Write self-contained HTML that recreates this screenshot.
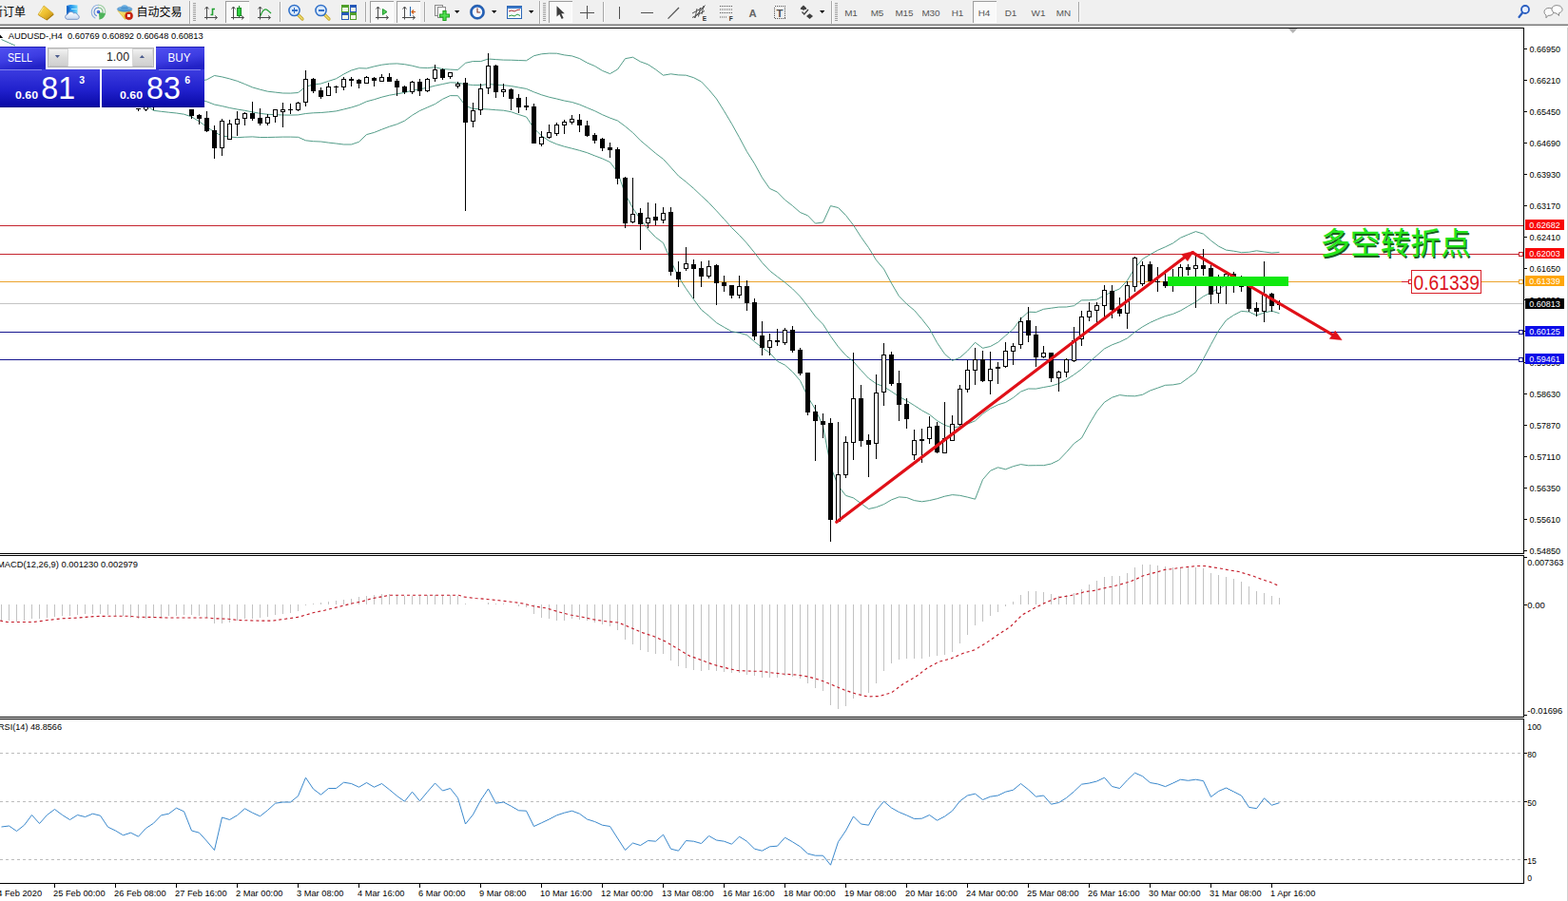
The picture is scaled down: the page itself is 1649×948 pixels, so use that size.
<!DOCTYPE html>
<html><head><meta charset="utf-8"><title>AUDUSD H4</title>
<style>
html,body{margin:0;padding:0;background:#fff;}
body{width:1649px;height:948px;overflow:hidden;position:relative;font-family:"Liberation Sans",sans-serif;}
svg{position:absolute;left:0;top:0;display:block;}
svg text{font-family:"Liberation Sans",sans-serif;}
rect{shape-rendering:crispEdges;}
</style></head><body>
<svg width="1649" height="948" viewBox="0 0 1649 948">
<rect x="0" y="0" width="1649" height="948" fill="#fff"/>
<rect x="0" y="29" width="1603" height="1" fill="#000"/>
<rect x="1602" y="29" width="1" height="554" fill="#000"/>
<rect x="1602" y="584" width="1" height="171" fill="#000"/>
<rect x="1602" y="756" width="1" height="174" fill="#000"/>
<rect x="0" y="582" width="1603" height="1" fill="#000"/>
<rect x="0" y="584" width="1603" height="1" fill="#000"/>
<rect x="0" y="754" width="1603" height="1" fill="#000"/>
<rect x="0" y="756" width="1603" height="1" fill="#000"/>
<rect x="0" y="929" width="1603" height="1" fill="#000"/>
<rect x="1648" y="27" width="1" height="921" fill="#d0d0d0"/>
<rect x="0" y="237" width="1602" height="1" fill="#c4242e"/>
<rect x="0" y="267" width="1602" height="1" fill="#c4242e"/>
<rect x="0" y="296" width="1602" height="1" fill="#eba32d"/>
<rect x="0" y="319" width="1602" height="1" fill="#c4c4c4"/>
<rect x="0" y="349" width="1602" height="1" fill="#16168f"/>
<rect x="0" y="378" width="1602" height="1" fill="#16168f"/>
<polyline points="1.5,41.5 9.5,45.1 16.0,48.0" fill="none" stroke="#3f917a" stroke-width="0.9"/>
<polyline points="209.5,85.5 217.5,83.8 225.5,79.5 233.5,80.9 241.5,82.9 249.5,85.3 257.5,88.5 265.5,91.9 273.5,94.2 281.5,96.2 289.5,97.1 297.5,98.0 305.5,98.1 313.5,97.5 321.5,91.2 329.5,89.0 337.5,88.0 345.5,85.4 353.5,82.8 361.5,78.0 369.5,74.0 377.5,71.7 385.5,72.0 393.5,69.9 401.5,68.2 409.5,67.2 417.5,66.9 425.5,67.7 433.5,69.2 441.5,71.2 449.5,71.5 457.5,70.8 465.5,72.6 473.5,73.1 481.5,73.5 489.5,66.3 497.5,64.5 505.5,64.6 513.5,62.0 521.5,62.6 529.5,63.1 537.5,63.2 545.5,63.5 553.5,63.8 561.5,58.7 569.5,56.8 577.5,56.1 585.5,56.2 593.5,57.9 601.5,58.9 609.5,61.6 617.5,66.1 625.5,69.5 633.5,74.4 641.5,77.6 649.5,73.0 657.5,61.7 665.5,60.2 673.5,64.9 681.5,67.8 689.5,73.1 697.5,79.2 705.5,77.8 713.5,78.9 721.5,79.2 729.5,81.7 737.5,85.9 745.5,94.3 753.5,104.0 761.5,116.8 769.5,130.2 777.5,144.6 785.5,159.6 793.5,172.2 801.5,186.9 809.5,198.4 817.5,202.1 825.5,210.3 833.5,216.5 841.5,223.5 849.5,226.8 857.5,235.1 865.5,234.0 873.5,216.6 881.5,218.5 889.5,226.5 897.5,236.9 905.5,249.4 913.5,260.6 921.5,273.7 929.5,283.1 937.5,298.0 945.5,311.7 953.5,319.8 961.5,326.5 969.5,335.7 977.5,345.9 985.5,360.6 993.5,372.4 1001.5,379.4 1009.5,376.3 1017.5,369.2 1025.5,360.3 1033.5,366.3 1041.5,364.5 1049.5,360.1 1057.5,353.1 1065.5,346.3 1073.5,335.5 1081.5,328.2 1089.5,328.5 1097.5,325.3 1105.5,324.2 1113.5,323.1 1121.5,323.0 1129.5,321.7 1137.5,315.9 1145.5,315.8 1153.5,315.1 1161.5,310.7 1169.5,307.3 1177.5,303.9 1185.5,295.1 1193.5,282.0 1201.5,272.6 1209.5,267.8 1217.5,263.3 1225.5,259.8 1233.5,255.9 1241.5,250.2 1249.5,246.8 1257.5,243.6 1265.5,246.1 1273.5,253.1 1281.5,259.1 1289.5,263.1 1297.5,264.2 1305.5,265.7 1313.5,265.3 1321.5,263.8 1329.5,265.0 1337.5,266.0 1345.5,265.4" fill="none" stroke="#3f917a" stroke-width="0.9"/>
<polyline points="1.5,76.4 9.5,79.2 17.5,82.0 25.5,84.5 33.5,86.6 41.5,88.7 49.5,90.4 57.5,91.8 65.5,93.0 73.5,94.2 81.5,95.1 89.5,95.9 97.5,96.5 105.5,97.0 113.5,97.6 121.5,98.3 129.5,99.0 137.5,99.6 145.5,100.4 153.5,100.9 161.5,101.3 169.5,101.5 177.5,101.7 185.5,101.8 193.5,102.3 201.5,103.3 209.5,104.7 217.5,106.9 225.5,110.0 233.5,111.6 241.5,113.5 249.5,115.0 257.5,116.3 265.5,117.9 273.5,119.3 281.5,120.3 289.5,120.7 297.5,121.0 305.5,121.1 313.5,120.9 321.5,119.5 329.5,118.8 337.5,118.5 345.5,117.8 353.5,116.9 361.5,115.0 369.5,113.0 377.5,110.5 385.5,106.8 393.5,104.7 401.5,102.2 409.5,100.2 417.5,98.8 425.5,97.4 433.5,95.2 441.5,93.8 449.5,92.2 457.5,90.2 465.5,88.5 473.5,86.8 481.5,87.1 489.5,88.8 497.5,89.5 505.5,89.6 513.5,88.5 521.5,89.2 529.5,89.7 537.5,90.5 545.5,92.0 553.5,93.4 561.5,96.8 569.5,99.8 577.5,102.2 585.5,104.0 593.5,106.0 601.5,107.5 609.5,110.0 617.5,113.4 625.5,116.7 633.5,120.7 641.5,124.1 649.5,127.0 657.5,132.9 665.5,139.6 673.5,147.8 681.5,154.5 689.5,161.3 697.5,167.4 705.5,176.1 713.5,185.1 721.5,191.4 729.5,198.3 737.5,205.9 745.5,213.3 753.5,221.8 761.5,230.6 769.5,239.5 777.5,247.4 785.5,256.0 793.5,265.9 801.5,276.3 809.5,284.9 817.5,291.1 825.5,297.2 833.5,303.9 841.5,312.0 849.5,322.1 857.5,333.0 865.5,341.1 873.5,353.7 881.5,364.8 889.5,373.9 897.5,380.4 905.5,389.6 913.5,398.1 921.5,403.7 929.5,406.9 937.5,411.9 945.5,417.3 953.5,421.6 961.5,426.6 969.5,431.8 977.5,436.2 985.5,442.6 993.5,447.3 1001.5,450.0 1009.5,448.8 1017.5,446.1 1025.5,442.8 1033.5,435.4 1041.5,429.9 1049.5,425.9 1057.5,423.4 1065.5,418.5 1073.5,412.1 1081.5,409.0 1089.5,409.1 1097.5,407.5 1105.5,406.1 1113.5,403.6 1121.5,399.4 1129.5,394.2 1137.5,388.4 1145.5,381.0 1153.5,374.0 1161.5,366.9 1169.5,362.8 1177.5,359.8 1185.5,355.9 1193.5,349.4 1201.5,343.9 1209.5,339.4 1217.5,335.8 1225.5,332.6 1233.5,330.4 1241.5,326.9 1249.5,322.2 1257.5,317.6 1265.5,311.9 1273.5,307.8 1281.5,303.5 1289.5,300.0 1297.5,297.9 1305.5,296.6 1313.5,296.7 1321.5,297.8 1329.5,297.0 1337.5,296.6 1345.5,297.6" fill="none" stroke="#3f917a" stroke-width="0.9"/>
<polyline points="1.5,110.5 9.5,110.5 17.5,110.5 25.5,110.5 33.5,110.5 41.5,110.5 49.5,110.5 57.5,110.5 65.5,110.5 73.5,110.5 81.5,110.4 89.5,109.1 97.5,107.9 105.5,107.0 113.5,106.7 121.5,107.0 129.5,108.5 137.5,109.9 145.5,110.5 153.5,110.5 161.5,116.3 169.5,117.3 177.5,118.2 185.5,119.0 193.5,120.2 201.5,122.9 209.5,127.8 217.5,133.5 225.5,139.0 233.5,143.0 241.5,144.0 249.5,144.7 257.5,144.2 265.5,143.9 273.5,144.5 281.5,144.5 289.5,144.3 297.5,144.1 305.5,144.1 313.5,144.3 321.5,147.8 329.5,148.7 337.5,149.0 345.5,150.1 353.5,151.0 361.5,152.0 369.5,152.0 377.5,149.3 385.5,141.6 393.5,139.4 401.5,136.2 409.5,133.2 417.5,130.7 425.5,127.1 433.5,121.3 441.5,116.5 449.5,113.0 457.5,109.5 465.5,104.3 473.5,100.6 481.5,100.7 489.5,111.2 497.5,114.5 505.5,114.6 513.5,115.0 521.5,115.7 529.5,116.2 537.5,117.7 545.5,120.5 553.5,123.0 561.5,135.0 569.5,142.8 577.5,148.3 585.5,151.7 593.5,154.2 601.5,156.2 609.5,158.3 617.5,160.7 625.5,163.9 633.5,166.9 641.5,170.6 649.5,181.1 657.5,204.2 665.5,218.9 673.5,230.8 681.5,241.2 689.5,249.6 697.5,255.6 705.5,274.3 713.5,291.3 721.5,303.7 729.5,315.0 737.5,325.9 745.5,332.4 753.5,339.6 761.5,344.3 769.5,348.8 777.5,350.3 785.5,352.4 793.5,359.6 801.5,365.7 809.5,371.3 817.5,380.1 825.5,384.1 833.5,391.2 841.5,400.5 849.5,417.4 857.5,430.9 865.5,448.1 873.5,490.8 881.5,511.1 889.5,521.4 897.5,523.9 905.5,529.7 913.5,535.5 921.5,533.7 929.5,530.6 937.5,525.9 945.5,522.9 953.5,523.5 961.5,526.6 969.5,527.8 977.5,526.6 985.5,524.7 993.5,522.2 1001.5,520.6 1009.5,521.3 1017.5,523.1 1025.5,525.2 1033.5,504.6 1041.5,495.3 1049.5,491.8 1057.5,493.8 1065.5,490.7 1073.5,488.6 1081.5,489.8 1089.5,489.7 1097.5,489.7 1105.5,488.0 1113.5,484.2 1121.5,475.8 1129.5,466.7 1137.5,460.9 1145.5,446.2 1153.5,432.9 1161.5,423.2 1169.5,418.2 1177.5,415.6 1185.5,416.6 1193.5,416.8 1201.5,415.3 1209.5,411.0 1217.5,408.2 1225.5,405.3 1233.5,404.9 1241.5,403.5 1249.5,397.7 1257.5,391.7 1265.5,377.7 1273.5,362.5 1281.5,347.9 1289.5,336.9 1297.5,331.5 1305.5,327.4 1313.5,328.1 1321.5,331.8 1329.5,329.0 1337.5,327.2 1345.5,329.7" fill="none" stroke="#3f917a" stroke-width="0.9"/>
<g fill="#000"><rect x="201" y="115" width="1" height="10"/><rect x="199" y="115" width="5" height="7"/><rect x="209" y="120" width="1" height="11"/><rect x="207" y="121" width="5" height="4"/><rect x="217" y="117" width="1" height="22"/><rect x="215" y="124" width="5" height="14"/><rect x="225" y="132" width="1" height="35"/><rect x="223" y="137" width="5" height="19"/><rect x="233" y="125" width="1" height="39"/><rect x="231" y="127" width="5" height="29"/><rect x="232" y="128" width="3" height="27" fill="#fff"/><rect x="241" y="126" width="1" height="21"/><rect x="239" y="130" width="5" height="17"/><rect x="240" y="131" width="3" height="15" fill="#fff"/><rect x="249" y="117" width="1" height="26"/><rect x="247" y="125" width="5" height="6"/><rect x="248" y="126" width="3" height="4" fill="#fff"/><rect x="257" y="118" width="1" height="14"/><rect x="255" y="119" width="5" height="6"/><rect x="256" y="120" width="3" height="4" fill="#fff"/><rect x="265" y="107" width="1" height="20"/><rect x="263" y="119" width="5" height="6"/><rect x="273" y="114" width="1" height="18"/><rect x="271" y="124" width="5" height="6"/><rect x="281" y="120" width="1" height="12"/><rect x="279" y="123" width="5" height="7"/><rect x="280" y="124" width="3" height="5" fill="#fff"/><rect x="289" y="115" width="1" height="14"/><rect x="287" y="115" width="5" height="8"/><rect x="288" y="116" width="3" height="6" fill="#fff"/><rect x="297" y="108" width="1" height="26"/><rect x="295" y="115" width="5" height="3"/><rect x="296" y="116" width="3" height="1" fill="#fff"/><rect x="305" y="109" width="1" height="11"/><rect x="303" y="115" width="5" height="1"/><rect x="313" y="107" width="1" height="10"/><rect x="311" y="108" width="5" height="8"/><rect x="312" y="109" width="3" height="6" fill="#fff"/><rect x="321" y="74" width="1" height="38"/><rect x="319" y="83" width="5" height="25"/><rect x="320" y="84" width="3" height="23" fill="#fff"/><rect x="329" y="82" width="1" height="16"/><rect x="327" y="83" width="5" height="13"/><rect x="337" y="92" width="1" height="12"/><rect x="335" y="95" width="5" height="7"/><rect x="345" y="87" width="1" height="14"/><rect x="343" y="91" width="5" height="10"/><rect x="344" y="92" width="3" height="8" fill="#fff"/><rect x="353" y="90" width="1" height="8"/><rect x="351" y="91" width="5" height="1"/><rect x="361" y="81" width="1" height="14"/><rect x="359" y="83" width="5" height="9"/><rect x="360" y="84" width="3" height="7" fill="#fff"/><rect x="369" y="81" width="1" height="10"/><rect x="367" y="83" width="5" height="2"/><rect x="377" y="83" width="1" height="10"/><rect x="375" y="84" width="5" height="4"/><rect x="385" y="80" width="1" height="8"/><rect x="383" y="81" width="5" height="7"/><rect x="384" y="82" width="3" height="5" fill="#fff"/><rect x="393" y="81" width="1" height="10"/><rect x="391" y="82" width="5" height="3"/><rect x="401" y="78" width="1" height="8"/><rect x="399" y="81" width="5" height="5"/><rect x="400" y="82" width="3" height="3" fill="#fff"/><rect x="409" y="77" width="1" height="9"/><rect x="407" y="81" width="5" height="5"/><rect x="417" y="83" width="1" height="18"/><rect x="415" y="85" width="5" height="7"/><rect x="425" y="90" width="1" height="9"/><rect x="423" y="91" width="5" height="6"/><rect x="433" y="85" width="1" height="14"/><rect x="431" y="86" width="5" height="11"/><rect x="432" y="87" width="3" height="9" fill="#fff"/><rect x="441" y="83" width="1" height="18"/><rect x="439" y="86" width="5" height="10"/><rect x="449" y="82" width="1" height="15"/><rect x="447" y="83" width="5" height="13"/><rect x="448" y="84" width="3" height="11" fill="#fff"/><rect x="457" y="68" width="1" height="18"/><rect x="455" y="73" width="5" height="10"/><rect x="456" y="74" width="3" height="8" fill="#fff"/><rect x="465" y="72" width="1" height="12"/><rect x="463" y="73" width="5" height="9"/><rect x="473" y="76" width="1" height="7"/><rect x="471" y="76" width="5" height="5"/><rect x="472" y="77" width="3" height="3" fill="#fff"/><rect x="481" y="86" width="1" height="7"/><rect x="479" y="88" width="5" height="3"/><rect x="480" y="89" width="3" height="1" fill="#fff"/><rect x="489" y="82" width="1" height="140"/><rect x="487" y="87" width="5" height="42"/><rect x="497" y="108" width="1" height="26"/><rect x="495" y="116" width="5" height="12"/><rect x="496" y="117" width="3" height="10" fill="#fff"/><rect x="505" y="88" width="1" height="33"/><rect x="503" y="93" width="5" height="23"/><rect x="504" y="94" width="3" height="21" fill="#fff"/><rect x="513" y="56" width="1" height="43"/><rect x="511" y="69" width="5" height="24"/><rect x="512" y="70" width="3" height="22" fill="#fff"/><rect x="521" y="68" width="1" height="35"/><rect x="519" y="69" width="5" height="28"/><rect x="529" y="88" width="1" height="14"/><rect x="527" y="94" width="5" height="3"/><rect x="528" y="95" width="3" height="1" fill="#fff"/><rect x="537" y="93" width="1" height="23"/><rect x="535" y="94" width="5" height="10"/><rect x="545" y="99" width="1" height="20"/><rect x="543" y="103" width="5" height="10"/><rect x="553" y="102" width="1" height="14"/><rect x="551" y="111" width="5" height="2"/><rect x="561" y="109" width="1" height="42"/><rect x="559" y="112" width="5" height="39"/><rect x="569" y="138" width="1" height="16"/><rect x="567" y="144" width="5" height="8"/><rect x="568" y="145" width="3" height="6" fill="#fff"/><rect x="577" y="131" width="1" height="15"/><rect x="575" y="139" width="5" height="6"/><rect x="576" y="140" width="3" height="4" fill="#fff"/><rect x="585" y="129" width="1" height="14"/><rect x="583" y="131" width="5" height="10"/><rect x="584" y="132" width="3" height="8" fill="#fff"/><rect x="593" y="126" width="1" height="15"/><rect x="591" y="128" width="5" height="4"/><rect x="592" y="129" width="3" height="2" fill="#fff"/><rect x="601" y="121" width="1" height="10"/><rect x="599" y="125" width="5" height="4"/><rect x="600" y="126" width="3" height="2" fill="#fff"/><rect x="609" y="120" width="1" height="19"/><rect x="607" y="126" width="5" height="6"/><rect x="617" y="127" width="1" height="17"/><rect x="615" y="132" width="5" height="11"/><rect x="625" y="140" width="1" height="11"/><rect x="623" y="142" width="5" height="6"/><rect x="633" y="145" width="1" height="14"/><rect x="631" y="146" width="5" height="10"/><rect x="641" y="150" width="1" height="16"/><rect x="639" y="155" width="5" height="3"/><rect x="649" y="155" width="1" height="39"/><rect x="647" y="157" width="5" height="31"/><rect x="657" y="186" width="1" height="54"/><rect x="655" y="187" width="5" height="48"/><rect x="665" y="187" width="1" height="48"/><rect x="663" y="225" width="5" height="9"/><rect x="664" y="226" width="3" height="7" fill="#fff"/><rect x="673" y="219" width="1" height="44"/><rect x="671" y="224" width="5" height="12"/><rect x="681" y="213" width="1" height="27"/><rect x="679" y="229" width="5" height="6"/><rect x="680" y="230" width="3" height="4" fill="#fff"/><rect x="689" y="214" width="1" height="23"/><rect x="687" y="228" width="5" height="4"/><rect x="697" y="218" width="1" height="17"/><rect x="695" y="224" width="5" height="8"/><rect x="696" y="225" width="3" height="6" fill="#fff"/><rect x="705" y="218" width="1" height="72"/><rect x="703" y="223" width="5" height="63"/><rect x="713" y="275" width="1" height="27"/><rect x="711" y="286" width="5" height="8"/><rect x="721" y="260" width="1" height="25"/><rect x="719" y="277" width="5" height="6"/><rect x="720" y="278" width="3" height="4" fill="#fff"/><rect x="729" y="273" width="1" height="41"/><rect x="727" y="278" width="5" height="5"/><rect x="737" y="275" width="1" height="27"/><rect x="735" y="282" width="5" height="9"/><rect x="745" y="274" width="1" height="19"/><rect x="743" y="280" width="5" height="11"/><rect x="744" y="281" width="3" height="9" fill="#fff"/><rect x="753" y="278" width="1" height="43"/><rect x="751" y="279" width="5" height="19"/><rect x="761" y="290" width="1" height="17"/><rect x="759" y="297" width="5" height="4"/><rect x="769" y="300" width="1" height="14"/><rect x="767" y="300" width="5" height="11"/><rect x="777" y="290" width="1" height="24"/><rect x="775" y="301" width="5" height="10"/><rect x="776" y="302" width="3" height="8" fill="#fff"/><rect x="785" y="295" width="1" height="32"/><rect x="783" y="301" width="5" height="18"/><rect x="793" y="314" width="1" height="44"/><rect x="791" y="318" width="5" height="36"/><rect x="801" y="338" width="1" height="36"/><rect x="799" y="353" width="5" height="13"/><rect x="809" y="351" width="1" height="23"/><rect x="807" y="358" width="5" height="8"/><rect x="808" y="359" width="3" height="6" fill="#fff"/><rect x="817" y="346" width="1" height="18"/><rect x="815" y="358" width="5" height="2"/><rect x="825" y="345" width="1" height="18"/><rect x="823" y="347" width="5" height="14"/><rect x="824" y="348" width="3" height="12" fill="#fff"/><rect x="833" y="343" width="1" height="28"/><rect x="831" y="347" width="5" height="22"/><rect x="841" y="366" width="1" height="29"/><rect x="839" y="368" width="5" height="25"/><rect x="849" y="392" width="1" height="45"/><rect x="847" y="392" width="5" height="42"/><rect x="857" y="426" width="1" height="59"/><rect x="855" y="433" width="5" height="10"/><rect x="865" y="435" width="1" height="26"/><rect x="863" y="443" width="5" height="4"/><rect x="873" y="440" width="1" height="130"/><rect x="871" y="445" width="5" height="102"/><rect x="881" y="444" width="1" height="105"/><rect x="879" y="499" width="5" height="50"/><rect x="880" y="500" width="3" height="48" fill="#fff"/><rect x="889" y="459" width="1" height="44"/><rect x="887" y="465" width="5" height="35"/><rect x="888" y="466" width="3" height="33" fill="#fff"/><rect x="897" y="371" width="1" height="113"/><rect x="895" y="419" width="5" height="47"/><rect x="896" y="420" width="3" height="45" fill="#fff"/><rect x="905" y="405" width="1" height="65"/><rect x="903" y="419" width="5" height="45"/><rect x="913" y="457" width="1" height="45"/><rect x="911" y="463" width="5" height="5"/><rect x="921" y="394" width="1" height="89"/><rect x="919" y="413" width="5" height="54"/><rect x="920" y="414" width="3" height="52" fill="#fff"/><rect x="929" y="361" width="1" height="66"/><rect x="927" y="373" width="5" height="40"/><rect x="928" y="374" width="3" height="38" fill="#fff"/><rect x="937" y="370" width="1" height="36"/><rect x="935" y="373" width="5" height="31"/><rect x="945" y="390" width="1" height="53"/><rect x="943" y="403" width="5" height="23"/><rect x="953" y="419" width="1" height="32"/><rect x="951" y="425" width="5" height="16"/><rect x="961" y="452" width="1" height="32"/><rect x="959" y="463" width="5" height="16"/><rect x="960" y="464" width="3" height="14" fill="#fff"/><rect x="969" y="451" width="1" height="36"/><rect x="967" y="462" width="5" height="2"/><rect x="977" y="438" width="1" height="29"/><rect x="975" y="449" width="5" height="13"/><rect x="976" y="450" width="3" height="11" fill="#fff"/><rect x="985" y="444" width="1" height="33"/><rect x="983" y="448" width="5" height="28"/><rect x="993" y="423" width="1" height="54"/><rect x="991" y="461" width="5" height="16"/><rect x="992" y="462" width="3" height="14" fill="#fff"/><rect x="1001" y="437" width="1" height="27"/><rect x="999" y="446" width="5" height="18"/><rect x="1000" y="447" width="3" height="16" fill="#fff"/><rect x="1009" y="405" width="1" height="43"/><rect x="1007" y="409" width="5" height="38"/><rect x="1008" y="410" width="3" height="36" fill="#fff"/><rect x="1017" y="379" width="1" height="34"/><rect x="1015" y="389" width="5" height="21"/><rect x="1016" y="390" width="3" height="19" fill="#fff"/><rect x="1025" y="366" width="1" height="39"/><rect x="1023" y="378" width="5" height="12"/><rect x="1024" y="379" width="3" height="10" fill="#fff"/><rect x="1033" y="369" width="1" height="33"/><rect x="1031" y="378" width="5" height="23"/><rect x="1041" y="370" width="1" height="45"/><rect x="1039" y="388" width="5" height="13"/><rect x="1040" y="389" width="3" height="11" fill="#fff"/><rect x="1049" y="381" width="1" height="23"/><rect x="1047" y="386" width="5" height="2"/><rect x="1057" y="360" width="1" height="27"/><rect x="1055" y="369" width="5" height="17"/><rect x="1056" y="370" width="3" height="15" fill="#fff"/><rect x="1065" y="361" width="1" height="23"/><rect x="1063" y="364" width="5" height="6"/><rect x="1064" y="365" width="3" height="4" fill="#fff"/><rect x="1073" y="334" width="1" height="33"/><rect x="1071" y="338" width="5" height="25"/><rect x="1072" y="339" width="3" height="23" fill="#fff"/><rect x="1081" y="323" width="1" height="37"/><rect x="1079" y="337" width="5" height="16"/><rect x="1089" y="343" width="1" height="43"/><rect x="1087" y="352" width="5" height="24"/><rect x="1097" y="364" width="1" height="13"/><rect x="1095" y="371" width="5" height="5"/><rect x="1096" y="372" width="3" height="3" fill="#fff"/><rect x="1105" y="371" width="1" height="31"/><rect x="1103" y="371" width="5" height="27"/><rect x="1113" y="390" width="1" height="22"/><rect x="1111" y="391" width="5" height="7"/><rect x="1112" y="392" width="3" height="5" fill="#fff"/><rect x="1121" y="377" width="1" height="20"/><rect x="1119" y="378" width="5" height="14"/><rect x="1120" y="379" width="3" height="12" fill="#fff"/><rect x="1129" y="344" width="1" height="37"/><rect x="1127" y="358" width="5" height="22"/><rect x="1128" y="359" width="3" height="20" fill="#fff"/><rect x="1137" y="327" width="1" height="37"/><rect x="1135" y="333" width="5" height="24"/><rect x="1136" y="334" width="3" height="22" fill="#fff"/><rect x="1145" y="318" width="1" height="20"/><rect x="1143" y="327" width="5" height="7"/><rect x="1144" y="328" width="3" height="5" fill="#fff"/><rect x="1153" y="318" width="1" height="22"/><rect x="1151" y="321" width="5" height="6"/><rect x="1152" y="322" width="3" height="4" fill="#fff"/><rect x="1161" y="300" width="1" height="35"/><rect x="1159" y="305" width="5" height="17"/><rect x="1160" y="306" width="3" height="15" fill="#fff"/><rect x="1169" y="300" width="1" height="35"/><rect x="1167" y="306" width="5" height="20"/><rect x="1177" y="313" width="1" height="20"/><rect x="1175" y="325" width="5" height="5"/><rect x="1185" y="296" width="1" height="50"/><rect x="1183" y="300" width="5" height="30"/><rect x="1184" y="301" width="3" height="28" fill="#fff"/><rect x="1193" y="270" width="1" height="37"/><rect x="1191" y="271" width="5" height="31"/><rect x="1192" y="272" width="3" height="29" fill="#fff"/><rect x="1201" y="275" width="1" height="26"/><rect x="1199" y="279" width="5" height="20"/><rect x="1200" y="280" width="3" height="18" fill="#fff"/><rect x="1209" y="275" width="1" height="21"/><rect x="1207" y="278" width="5" height="18"/><rect x="1217" y="281" width="1" height="26"/><rect x="1215" y="296" width="5" height="1"/><rect x="1225" y="284" width="1" height="19"/><rect x="1223" y="296" width="5" height="5"/><rect x="1233" y="283" width="1" height="24"/><rect x="1231" y="295" width="5" height="1"/><rect x="1241" y="278" width="1" height="20"/><rect x="1239" y="281" width="5" height="14"/><rect x="1240" y="282" width="3" height="12" fill="#fff"/><rect x="1249" y="278" width="1" height="12"/><rect x="1247" y="281" width="5" height="3"/><rect x="1257" y="269" width="1" height="55"/><rect x="1255" y="279" width="5" height="4"/><rect x="1256" y="280" width="3" height="2" fill="#fff"/><rect x="1265" y="262" width="1" height="28"/><rect x="1263" y="279" width="5" height="4"/><rect x="1273" y="279" width="1" height="41"/><rect x="1271" y="282" width="5" height="28"/><rect x="1281" y="289" width="1" height="30"/><rect x="1279" y="292" width="5" height="17"/><rect x="1280" y="293" width="3" height="15" fill="#fff"/><rect x="1289" y="288" width="1" height="32"/><rect x="1287" y="288" width="5" height="10"/><rect x="1288" y="289" width="3" height="8" fill="#fff"/><rect x="1297" y="286" width="1" height="22"/><rect x="1295" y="288" width="5" height="3"/><rect x="1305" y="290" width="1" height="17"/><rect x="1303" y="296" width="5" height="6"/><rect x="1313" y="296" width="1" height="32"/><rect x="1311" y="297" width="5" height="28"/><rect x="1321" y="318" width="1" height="15"/><rect x="1319" y="324" width="5" height="4"/><rect x="1329" y="275" width="1" height="64"/><rect x="1327" y="309" width="5" height="19"/><rect x="1328" y="310" width="3" height="17" fill="#fff"/><rect x="1337" y="308" width="1" height="20"/><rect x="1335" y="309" width="5" height="13"/><rect x="1345" y="316" width="1" height="10"/><rect x="1343" y="319" width="5" height="2"/><rect x="143" y="114" width="5" height="1"/><rect x="145" y="114" width="1" height="3"/><rect x="151" y="113" width="1" height="2"/><rect x="155" y="113" width="1" height="2"/><rect x="152" y="115" width="3" height="1"/><rect x="153" y="115" width="1" height="2"/><rect x="161" y="113" width="1" height="3"/></g>
<g stroke="#e01018" stroke-width="3.2" stroke-linecap="round" fill="none"><line x1="879.8" y1="549.3" x2="1246" y2="270.6"/><line x1="1254" y1="265.6" x2="1403" y2="353.2"/></g><g fill="#e01018" stroke="#e01018" stroke-width="0.4" stroke-linejoin="round"><polygon points="1255.6,264.3 1242.3,267.6 1249,274.8"/><polygon points="1411.2,357.8 1404.2,348 1398.2,356.4"/></g>
<rect x="1228" y="291" width="127" height="10" fill="#0fe80f"/>
<rect x="1597.5" y="265.5" width="4" height="4" fill="#fff" stroke="#c4242e" stroke-width="1"/>
<rect x="1597.5" y="294.5" width="4" height="4" fill="#fff" stroke="#eba32d" stroke-width="1"/>
<rect x="1597.5" y="347.5" width="4" height="4" fill="#fff" stroke="#16168f" stroke-width="1"/>
<rect x="1597.5" y="376.5" width="4" height="4" fill="#fff" stroke="#16168f" stroke-width="1"/>
<rect x="1484.5" y="284.5" width="73" height="24" fill="#fff" stroke="#d8202a" stroke-width="1"/>
<rect x="1474" y="296" width="8" height="1" fill="#d8202a"/>
<rect x="1481.5" y="294.5" width="3" height="4" fill="#fff" stroke="#d8202a" stroke-width="1"/>
<text x="1486.5" y="304.90" font-size="21.5" fill="#dc1420" text-anchor="start" textLength="69.5" lengthAdjust="spacingAndGlyphs">0.61339</text>
<text x="1389.8" y="268.7" font-size="32" fill="#1d5c1d" text-anchor="start" textLength="158" lengthAdjust="spacingAndGlyphs" style="font-family:'Liberation Sans','Noto Sans CJK SC',sans-serif;">多空转折点</text>
<text x="1388.5" y="267.4" font-size="32" fill="#22e61a" stroke="#22e61a" stroke-width="0.15" text-anchor="start" textLength="158" lengthAdjust="spacingAndGlyphs" style="font-family:'Liberation Sans','Noto Sans CJK SC',sans-serif;">多空转折点</text>
<rect x="1603" y="51" width="3" height="1" fill="#000"/>
<text x="1608.5" y="54.90" font-size="9.5" fill="#000" text-anchor="start" textLength="32.5" lengthAdjust="spacingAndGlyphs">0.66950</text>
<rect x="1603" y="84" width="3" height="1" fill="#000"/>
<text x="1608.5" y="87.90" font-size="9.5" fill="#000" text-anchor="start" textLength="32.5" lengthAdjust="spacingAndGlyphs">0.66210</text>
<rect x="1603" y="117" width="3" height="1" fill="#000"/>
<text x="1608.5" y="120.90" font-size="9.5" fill="#000" text-anchor="start" textLength="32.5" lengthAdjust="spacingAndGlyphs">0.65450</text>
<rect x="1603" y="150" width="3" height="1" fill="#000"/>
<text x="1608.5" y="153.90" font-size="9.5" fill="#000" text-anchor="start" textLength="32.5" lengthAdjust="spacingAndGlyphs">0.64690</text>
<rect x="1603" y="183" width="3" height="1" fill="#000"/>
<text x="1608.5" y="186.90" font-size="9.5" fill="#000" text-anchor="start" textLength="32.5" lengthAdjust="spacingAndGlyphs">0.63930</text>
<rect x="1603" y="216" width="3" height="1" fill="#000"/>
<text x="1608.5" y="219.90" font-size="9.5" fill="#000" text-anchor="start" textLength="32.5" lengthAdjust="spacingAndGlyphs">0.63170</text>
<rect x="1603" y="249" width="3" height="1" fill="#000"/>
<text x="1608.5" y="252.90" font-size="9.5" fill="#000" text-anchor="start" textLength="32.5" lengthAdjust="spacingAndGlyphs">0.62410</text>
<rect x="1603" y="282" width="3" height="1" fill="#000"/>
<text x="1608.5" y="285.90" font-size="9.5" fill="#000" text-anchor="start" textLength="32.5" lengthAdjust="spacingAndGlyphs">0.61650</text>
<rect x="1603" y="315" width="3" height="1" fill="#000"/>
<text x="1608.5" y="318.90" font-size="9.5" fill="#000" text-anchor="start" textLength="32.5" lengthAdjust="spacingAndGlyphs">0.60890</text>
<rect x="1603" y="348" width="3" height="1" fill="#000"/>
<text x="1608.5" y="351.90" font-size="9.5" fill="#000" text-anchor="start" textLength="32.5" lengthAdjust="spacingAndGlyphs">0.60130</text>
<rect x="1603" y="381" width="3" height="1" fill="#000"/>
<text x="1608.5" y="384.90" font-size="9.5" fill="#000" text-anchor="start" textLength="32.5" lengthAdjust="spacingAndGlyphs">0.59390</text>
<rect x="1603" y="414" width="3" height="1" fill="#000"/>
<text x="1608.5" y="417.90" font-size="9.5" fill="#000" text-anchor="start" textLength="32.5" lengthAdjust="spacingAndGlyphs">0.58630</text>
<rect x="1603" y="447" width="3" height="1" fill="#000"/>
<text x="1608.5" y="450.90" font-size="9.5" fill="#000" text-anchor="start" textLength="32.5" lengthAdjust="spacingAndGlyphs">0.57870</text>
<rect x="1603" y="480" width="3" height="1" fill="#000"/>
<text x="1608.5" y="483.90" font-size="9.5" fill="#000" text-anchor="start" textLength="32.5" lengthAdjust="spacingAndGlyphs">0.57110</text>
<rect x="1603" y="513" width="3" height="1" fill="#000"/>
<text x="1608.5" y="516.90" font-size="9.5" fill="#000" text-anchor="start" textLength="32.5" lengthAdjust="spacingAndGlyphs">0.56350</text>
<rect x="1603" y="546" width="3" height="1" fill="#000"/>
<text x="1608.5" y="549.90" font-size="9.5" fill="#000" text-anchor="start" textLength="32.5" lengthAdjust="spacingAndGlyphs">0.55610</text>
<rect x="1603" y="579" width="3" height="1" fill="#000"/>
<text x="1608.5" y="582.90" font-size="9.5" fill="#000" text-anchor="start" textLength="32.5" lengthAdjust="spacingAndGlyphs">0.54850</text>
<rect x="1604" y="231" width="41" height="11" fill="#f80808"/>
<text x="1608.3" y="240.00" font-size="9.5" fill="#fff" text-anchor="start" textLength="32.5" lengthAdjust="spacingAndGlyphs">0.62682</text>
<rect x="1604" y="261" width="41" height="11" fill="#f80808"/>
<text x="1608.3" y="270.00" font-size="9.5" fill="#fff" text-anchor="start" textLength="32.5" lengthAdjust="spacingAndGlyphs">0.62003</text>
<rect x="1604" y="290" width="41" height="11" fill="#ffa60a"/>
<text x="1608.3" y="299.00" font-size="9.5" fill="#fff" text-anchor="start" textLength="32.5" lengthAdjust="spacingAndGlyphs">0.61339</text>
<rect x="1604" y="314" width="41" height="11" fill="#000"/>
<text x="1608.3" y="323.00" font-size="9.5" fill="#fff" text-anchor="start" textLength="32.5" lengthAdjust="spacingAndGlyphs">0.60813</text>
<rect x="1604" y="343" width="41" height="11" fill="#0c0ce8"/>
<text x="1608.3" y="352.00" font-size="9.5" fill="#fff" text-anchor="start" textLength="32.5" lengthAdjust="spacingAndGlyphs">0.60125</text>
<rect x="1604" y="372" width="41" height="11" fill="#0c0ce8"/>
<text x="1608.3" y="381.00" font-size="9.5" fill="#fff" text-anchor="start" textLength="32.5" lengthAdjust="spacingAndGlyphs">0.59461</text>
<polygon points="0,36.6 3.2,40 0,40" fill="#000"/>
<text x="8.7" y="40.80" font-size="9.5" fill="#000" text-anchor="start" textLength="205" lengthAdjust="spacingAndGlyphs">AUDUSD-,H4&#160; 0.60769 0.60892 0.60648 0.60813</text>
<polygon points="1355,30 1364.5,30 1359.7,35" fill="#b4b4b4"/>
<g fill="#c2c2c2"><rect x="1" y="636" width="1" height="17"/><rect x="9" y="636" width="1" height="17"/><rect x="17" y="636" width="1" height="18"/><rect x="25" y="636" width="1" height="17"/><rect x="33" y="636" width="1" height="15"/><rect x="41" y="636" width="1" height="15"/><rect x="49" y="636" width="1" height="14"/><rect x="57" y="636" width="1" height="13"/><rect x="65" y="636" width="1" height="12"/><rect x="73" y="636" width="1" height="12"/><rect x="81" y="636" width="1" height="11"/><rect x="89" y="636" width="1" height="10"/><rect x="97" y="636" width="1" height="10"/><rect x="105" y="636" width="1" height="10"/><rect x="113" y="636" width="1" height="11"/><rect x="121" y="636" width="1" height="12"/><rect x="129" y="636" width="1" height="12"/><rect x="137" y="636" width="1" height="14"/><rect x="145" y="636" width="1" height="15"/><rect x="153" y="636" width="1" height="15"/><rect x="161" y="636" width="1" height="14"/><rect x="169" y="636" width="1" height="13"/><rect x="177" y="636" width="1" height="12"/><rect x="185" y="636" width="1" height="12"/><rect x="193" y="636" width="1" height="11"/><rect x="201" y="636" width="1" height="11"/><rect x="209" y="636" width="1" height="12"/><rect x="217" y="636" width="1" height="14"/><rect x="225" y="636" width="1" height="20"/><rect x="233" y="636" width="1" height="20"/><rect x="241" y="636" width="1" height="19"/><rect x="249" y="636" width="1" height="17"/><rect x="257" y="636" width="1" height="15"/><rect x="265" y="636" width="1" height="15"/><rect x="273" y="636" width="1" height="14"/><rect x="281" y="636" width="1" height="13"/><rect x="289" y="636" width="1" height="11"/><rect x="297" y="636" width="1" height="10"/><rect x="305" y="636" width="1" height="9"/><rect x="313" y="636" width="1" height="7"/><rect x="321" y="636" width="1" height="1"/><rect x="329" y="635" width="1" height="1"/><rect x="337" y="634" width="1" height="2"/><rect x="345" y="633" width="1" height="3"/><rect x="353" y="632" width="1" height="4"/><rect x="361" y="631" width="1" height="5"/><rect x="369" y="630" width="1" height="6"/><rect x="377" y="628" width="1" height="8"/><rect x="385" y="627" width="1" height="9"/><rect x="393" y="626" width="1" height="10"/><rect x="401" y="625" width="1" height="11"/><rect x="409" y="625" width="1" height="11"/><rect x="417" y="626" width="1" height="10"/><rect x="425" y="627" width="1" height="9"/><rect x="433" y="627" width="1" height="9"/><rect x="441" y="627" width="1" height="9"/><rect x="449" y="626" width="1" height="10"/><rect x="457" y="626" width="1" height="10"/><rect x="465" y="626" width="1" height="10"/><rect x="473" y="626" width="1" height="10"/><rect x="481" y="627" width="1" height="9"/><rect x="489" y="635" width="1" height="1"/><rect x="513" y="634" width="1" height="2"/><rect x="521" y="635" width="1" height="1"/><rect x="529" y="635" width="1" height="1"/><rect x="545" y="636" width="1" height="2"/><rect x="553" y="636" width="1" height="3"/><rect x="561" y="636" width="1" height="10"/><rect x="569" y="636" width="1" height="14"/><rect x="577" y="636" width="1" height="15"/><rect x="585" y="636" width="1" height="17"/><rect x="593" y="636" width="1" height="17"/><rect x="601" y="636" width="1" height="15"/><rect x="609" y="636" width="1" height="16"/><rect x="617" y="636" width="1" height="17"/><rect x="625" y="636" width="1" height="19"/><rect x="633" y="636" width="1" height="21"/><rect x="641" y="636" width="1" height="23"/><rect x="649" y="636" width="1" height="27"/><rect x="657" y="636" width="1" height="37"/><rect x="665" y="636" width="1" height="42"/><rect x="673" y="636" width="1" height="48"/><rect x="681" y="636" width="1" height="50"/><rect x="689" y="636" width="1" height="52"/><rect x="697" y="636" width="1" height="52"/><rect x="705" y="636" width="1" height="59"/><rect x="713" y="636" width="1" height="65"/><rect x="721" y="636" width="1" height="67"/><rect x="729" y="636" width="1" height="69"/><rect x="737" y="636" width="1" height="70"/><rect x="745" y="636" width="1" height="69"/><rect x="753" y="636" width="1" height="70"/><rect x="761" y="636" width="1" height="71"/><rect x="769" y="636" width="1" height="72"/><rect x="777" y="636" width="1" height="72"/><rect x="785" y="636" width="1" height="74"/><rect x="793" y="636" width="1" height="75"/><rect x="801" y="636" width="1" height="77"/><rect x="809" y="636" width="1" height="77"/><rect x="817" y="636" width="1" height="77"/><rect x="825" y="636" width="1" height="75"/><rect x="833" y="636" width="1" height="76"/><rect x="841" y="636" width="1" height="78"/><rect x="849" y="636" width="1" height="83"/><rect x="857" y="636" width="1" height="88"/><rect x="865" y="636" width="1" height="91"/><rect x="873" y="636" width="1" height="106"/><rect x="881" y="636" width="1" height="110"/><rect x="889" y="636" width="1" height="107"/><rect x="897" y="636" width="1" height="99"/><rect x="905" y="636" width="1" height="96"/><rect x="913" y="636" width="1" height="93"/><rect x="921" y="636" width="1" height="83"/><rect x="929" y="636" width="1" height="70"/><rect x="937" y="636" width="1" height="62"/><rect x="945" y="636" width="1" height="58"/><rect x="953" y="636" width="1" height="57"/><rect x="961" y="636" width="1" height="57"/><rect x="969" y="636" width="1" height="57"/><rect x="977" y="636" width="1" height="55"/><rect x="985" y="636" width="1" height="54"/><rect x="993" y="636" width="1" height="53"/><rect x="1001" y="636" width="1" height="50"/><rect x="1009" y="636" width="1" height="41"/><rect x="1017" y="636" width="1" height="32"/><rect x="1025" y="636" width="1" height="22"/><rect x="1033" y="636" width="1" height="18"/><rect x="1041" y="636" width="1" height="12"/><rect x="1049" y="636" width="1" height="8"/><rect x="1057" y="636" width="1" height="2"/><rect x="1065" y="633" width="1" height="3"/><rect x="1073" y="626" width="1" height="10"/><rect x="1081" y="622" width="1" height="14"/><rect x="1089" y="622" width="1" height="14"/><rect x="1097" y="623" width="1" height="13"/><rect x="1105" y="625" width="1" height="11"/><rect x="1113" y="627" width="1" height="9"/><rect x="1121" y="626" width="1" height="10"/><rect x="1129" y="624" width="1" height="12"/><rect x="1137" y="620" width="1" height="16"/><rect x="1145" y="615" width="1" height="21"/><rect x="1153" y="611" width="1" height="25"/><rect x="1161" y="607" width="1" height="29"/><rect x="1169" y="606" width="1" height="30"/><rect x="1177" y="606" width="1" height="30"/><rect x="1185" y="603" width="1" height="33"/><rect x="1193" y="597" width="1" height="39"/><rect x="1201" y="594" width="1" height="42"/><rect x="1209" y="594" width="1" height="42"/><rect x="1217" y="595" width="1" height="41"/><rect x="1225" y="596" width="1" height="40"/><rect x="1233" y="597" width="1" height="39"/><rect x="1241" y="597" width="1" height="39"/><rect x="1249" y="597" width="1" height="39"/><rect x="1257" y="597" width="1" height="39"/><rect x="1265" y="598" width="1" height="38"/><rect x="1273" y="603" width="1" height="33"/><rect x="1281" y="605" width="1" height="31"/><rect x="1289" y="607" width="1" height="29"/><rect x="1297" y="609" width="1" height="27"/><rect x="1305" y="612" width="1" height="24"/><rect x="1313" y="617" width="1" height="19"/><rect x="1321" y="622" width="1" height="14"/><rect x="1329" y="624" width="1" height="12"/><rect x="1337" y="627" width="1" height="9"/><rect x="1345" y="629" width="1" height="7"/></g>
<polyline points="0.0,653.0 7.5,654.5 15.0,654.5 35.0,654.5 50.0,652.5 65.0,650.8 82.5,650.0 100.0,648.5 117.5,648.2 135.0,648.2 145.0,649.2 162.5,649.5 175.0,650.0 220.0,650.0 225.0,650.8 240.0,651.2 250.0,652.5 275.0,653.2 287.5,653.0 300.0,651.2 312.5,649.5 320.0,647.5 330.0,644.5 340.0,642.5 350.0,640.0 360.0,637.5 370.0,635.0 380.0,633.0 390.0,630.0 400.0,628.0 400.0,628.2 410.0,626.2 482.5,626.2 487.5,628.0 500.0,629.5 512.5,630.5 525.0,631.8 537.5,633.2 550.0,635.0 560.0,637.5 575.0,640.0 587.5,643.8 600.0,647.0 612.5,649.2 625.0,652.0 637.5,653.8 650.0,655.0 662.5,660.0 675.0,665.5 687.5,669.5 700.0,675.0 712.5,682.5 725.0,690.0 737.5,694.5 750.0,699.2 762.5,702.5 775.0,705.5 790.0,706.2 800.0,706.2 812.5,708.0 825.0,709.2 837.5,710.0 850.0,712.0 862.5,715.5 875.0,720.5 887.5,725.8 900.0,730.0 912.5,733.0 925.0,732.5 937.5,728.8 950.0,719.5 962.5,712.5 975.0,703.0 987.5,696.2 1000.0,693.0 1012.5,687.5 1025.0,683.8 1037.5,676.2 1050.0,667.5 1062.5,659.5 1075.0,647.0 1087.5,640.0 1100.0,633.8 1112.5,628.8 1125.0,626.8 1137.5,623.8 1140.0,622.7 1150.2,621.5 1160.4,619.0 1168.9,617.3 1177.4,615.2 1187.5,612.2 1194.3,609.6 1201.1,606.2 1207.9,604.2 1216.4,602.0 1224.9,599.4 1233.4,598.6 1241.9,597.2 1250.4,596.4 1258.9,595.5 1267.4,595.5 1275.8,596.9 1284.3,598.2 1292.8,599.9 1303.0,601.5 1309.8,603.7 1318.3,606.2 1326.8,609.6 1335.3,612.2 1343.8,615.9" fill="none" stroke="#c41a28" stroke-width="1.15" stroke-dasharray="3,3"/>
<text x="-3" y="596.90" font-size="9.5" fill="#000" text-anchor="start" textLength="148" lengthAdjust="spacingAndGlyphs">MACD(12,26,9) 0.001230 0.002979</text>
<rect x="1603" y="586" width="3" height="1" fill="#000"/>
<text x="1606.3" y="594.90" font-size="9.5" fill="#000" text-anchor="start" textLength="38" lengthAdjust="spacingAndGlyphs">0.007363</text>
<rect x="1603" y="636" width="3" height="1" fill="#000"/>
<text x="1606.3" y="639.90" font-size="9.5" fill="#000" text-anchor="start" textLength="18.5" lengthAdjust="spacingAndGlyphs">0.00</text>
<rect x="1603" y="752" width="3" height="1" fill="#000"/>
<text x="1606.3" y="750.90" font-size="9.5" fill="#000" text-anchor="start" textLength="37" lengthAdjust="spacingAndGlyphs">-0.01696</text>
<line x1="0" y1="792.5" x2="1602" y2="792.5" stroke="#bcbcbc" stroke-width="1" stroke-dasharray="3,3"/>
<line x1="0" y1="843.5" x2="1602" y2="843.5" stroke="#bcbcbc" stroke-width="1" stroke-dasharray="3,3"/>
<line x1="0" y1="904.5" x2="1602" y2="904.5" stroke="#bcbcbc" stroke-width="1" stroke-dasharray="3,3"/>
<polyline points="1.5,870.0 9.5,869.0 17.5,874.5 25.5,868.2 33.5,857.5 41.5,866.5 49.5,857.5 57.5,851.5 65.5,857.5 73.5,862.5 81.5,857.5 89.5,859.5 97.5,856.2 105.5,858.2 113.5,870.2 121.5,874.0 129.5,878.8 137.5,876.2 145.5,880.2 153.5,871.5 161.5,866.2 169.5,857.8 177.5,856.2 185.5,850.2 193.5,853.8 201.5,874.0 209.5,876.2 217.5,885.0 225.5,894.5 233.5,860.0 241.5,862.5 249.5,857.8 257.5,850.8 265.5,855.2 273.5,858.8 281.5,852.5 289.5,845.2 297.5,844.0 305.5,844.0 313.5,837.5 321.5,818.2 329.5,830.2 337.5,836.2 345.5,829.5 353.5,829.5 361.5,823.2 369.5,824.5 377.5,828.2 385.5,823.5 393.5,828.2 401.5,824.5 409.5,830.8 417.5,837.5 425.5,843.2 433.5,833.2 441.5,842.8 449.5,833.2 457.5,824.0 465.5,832.0 473.5,829.5 481.5,839.5 489.5,867.0 497.5,857.0 505.5,842.0 513.5,830.0 521.5,845.2 529.5,844.0 537.5,848.2 545.5,852.8 553.5,853.2 561.5,869.5 569.5,865.8 577.5,862.0 585.5,857.8 593.5,855.2 601.5,853.2 609.5,856.2 617.5,862.0 625.5,864.5 633.5,868.2 641.5,869.5 649.5,882.0 657.5,894.5 665.5,887.0 673.5,889.5 681.5,884.5 689.5,885.2 697.5,878.2 705.5,893.2 713.5,895.2 721.5,884.5 729.5,885.2 737.5,887.5 745.5,879.5 753.5,884.0 761.5,885.2 769.5,888.2 777.5,880.2 785.5,885.2 793.5,893.2 801.5,895.2 809.5,890.8 817.5,890.2 825.5,881.2 833.5,885.8 841.5,890.8 849.5,898.2 857.5,900.2 865.5,900.2 873.5,910.2 881.5,885.8 889.5,874.0 897.5,859.0 905.5,867.0 913.5,868.2 921.5,852.8 929.5,843.2 937.5,850.0 945.5,854.5 953.5,857.8 961.5,861.5 969.5,861.2 977.5,857.5 985.5,863.2 993.5,859.0 1001.5,853.2 1009.5,842.8 1017.5,837.0 1025.5,835.2 1033.5,841.5 1041.5,838.2 1049.5,837.0 1057.5,833.2 1065.5,831.2 1073.5,824.5 1081.5,830.8 1089.5,838.2 1097.5,837.0 1105.5,846.2 1113.5,844.5 1121.5,839.5 1129.5,832.8 1137.5,825.2 1145.5,824.0 1153.5,822.0 1161.5,818.2 1169.5,827.5 1177.5,829.5 1185.5,820.8 1193.5,813.2 1201.5,816.7 1209.5,823.5 1217.5,824.9 1225.5,827.6 1233.5,824.0 1241.5,820.2 1249.5,821.3 1257.5,820.2 1265.5,821.6 1273.5,838.5 1281.5,832.5 1289.5,829.0 1297.5,833.0 1305.5,837.1 1313.5,849.4 1321.5,850.7 1329.5,839.8 1337.5,847.2 1345.5,844.7" fill="none" stroke="#3a88cc" stroke-width="1"/>
<text x="-2" y="768.40" font-size="9.5" fill="#000" text-anchor="start" textLength="67" lengthAdjust="spacingAndGlyphs">RSI(14) 48.8566</text>
<text x="1606.3" y="767.90" font-size="9.5" fill="#000" text-anchor="start" textLength="14.5" lengthAdjust="spacingAndGlyphs">100</text>
<rect x="1603" y="792" width="3" height="1" fill="#000"/>
<text x="1606.3" y="796.90" font-size="9.5" fill="#000" text-anchor="start" textLength="9.5" lengthAdjust="spacingAndGlyphs">80</text>
<rect x="1603" y="843" width="3" height="1" fill="#000"/>
<text x="1606.3" y="847.90" font-size="9.5" fill="#000" text-anchor="start" textLength="9.5" lengthAdjust="spacingAndGlyphs">50</text>
<rect x="1603" y="904" width="3" height="1" fill="#000"/>
<text x="1606.3" y="908.90" font-size="9.5" fill="#000" text-anchor="start" textLength="9.5" lengthAdjust="spacingAndGlyphs">15</text>
<text x="1606.3" y="926.90" font-size="9.5" fill="#000" text-anchor="start" textLength="4.8" lengthAdjust="spacingAndGlyphs">0</text>
<rect x="-7" y="930" width="1" height="4" fill="#000"/>
<text x="-8" y="942.90" font-size="9.5" fill="#000" text-anchor="start" textLength="52.0525" lengthAdjust="spacingAndGlyphs">24 Feb 2020</text>
<rect x="57" y="930" width="1" height="4" fill="#000"/>
<text x="56" y="942.90" font-size="9.5" fill="#000" text-anchor="start" textLength="54.6278" lengthAdjust="spacingAndGlyphs">25 Feb 00:00</text>
<rect x="121" y="930" width="1" height="4" fill="#000"/>
<text x="120" y="942.90" font-size="9.5" fill="#000" text-anchor="start" textLength="54.6278" lengthAdjust="spacingAndGlyphs">26 Feb 08:00</text>
<rect x="185" y="930" width="1" height="4" fill="#000"/>
<text x="184" y="942.90" font-size="9.5" fill="#000" text-anchor="start" textLength="54.6278" lengthAdjust="spacingAndGlyphs">27 Feb 16:00</text>
<rect x="249" y="930" width="1" height="4" fill="#000"/>
<text x="248" y="942.90" font-size="9.5" fill="#000" text-anchor="start" textLength="49.4641" lengthAdjust="spacingAndGlyphs">2 Mar 00:00</text>
<rect x="313" y="930" width="1" height="4" fill="#000"/>
<text x="312" y="942.90" font-size="9.5" fill="#000" text-anchor="start" textLength="49.4641" lengthAdjust="spacingAndGlyphs">3 Mar 08:00</text>
<rect x="377" y="930" width="1" height="4" fill="#000"/>
<text x="376" y="942.90" font-size="9.5" fill="#000" text-anchor="start" textLength="49.4641" lengthAdjust="spacingAndGlyphs">4 Mar 16:00</text>
<rect x="441" y="930" width="1" height="4" fill="#000"/>
<text x="440" y="942.90" font-size="9.5" fill="#000" text-anchor="start" textLength="49.4641" lengthAdjust="spacingAndGlyphs">6 Mar 00:00</text>
<rect x="505" y="930" width="1" height="4" fill="#000"/>
<text x="504" y="942.90" font-size="9.5" fill="#000" text-anchor="start" textLength="49.4641" lengthAdjust="spacingAndGlyphs">9 Mar 08:00</text>
<rect x="569" y="930" width="1" height="4" fill="#000"/>
<text x="568" y="942.90" font-size="9.5" fill="#000" text-anchor="start" textLength="54.6191" lengthAdjust="spacingAndGlyphs">10 Mar 16:00</text>
<rect x="633" y="930" width="1" height="4" fill="#000"/>
<text x="632" y="942.90" font-size="9.5" fill="#000" text-anchor="start" textLength="54.6191" lengthAdjust="spacingAndGlyphs">12 Mar 00:00</text>
<rect x="697" y="930" width="1" height="4" fill="#000"/>
<text x="696" y="942.90" font-size="9.5" fill="#000" text-anchor="start" textLength="54.6191" lengthAdjust="spacingAndGlyphs">13 Mar 08:00</text>
<rect x="761" y="930" width="1" height="4" fill="#000"/>
<text x="760" y="942.90" font-size="9.5" fill="#000" text-anchor="start" textLength="54.6191" lengthAdjust="spacingAndGlyphs">16 Mar 16:00</text>
<rect x="825" y="930" width="1" height="4" fill="#000"/>
<text x="824" y="942.90" font-size="9.5" fill="#000" text-anchor="start" textLength="54.6191" lengthAdjust="spacingAndGlyphs">18 Mar 00:00</text>
<rect x="889" y="930" width="1" height="4" fill="#000"/>
<text x="888" y="942.90" font-size="9.5" fill="#000" text-anchor="start" textLength="54.6191" lengthAdjust="spacingAndGlyphs">19 Mar 08:00</text>
<rect x="953" y="930" width="1" height="4" fill="#000"/>
<text x="952" y="942.90" font-size="9.5" fill="#000" text-anchor="start" textLength="54.6191" lengthAdjust="spacingAndGlyphs">20 Mar 16:00</text>
<rect x="1017" y="930" width="1" height="4" fill="#000"/>
<text x="1016" y="942.90" font-size="9.5" fill="#000" text-anchor="start" textLength="54.6191" lengthAdjust="spacingAndGlyphs">24 Mar 00:00</text>
<rect x="1081" y="930" width="1" height="4" fill="#000"/>
<text x="1080" y="942.90" font-size="9.5" fill="#000" text-anchor="start" textLength="54.6191" lengthAdjust="spacingAndGlyphs">25 Mar 08:00</text>
<rect x="1145" y="930" width="1" height="4" fill="#000"/>
<text x="1144" y="942.90" font-size="9.5" fill="#000" text-anchor="start" textLength="54.6191" lengthAdjust="spacingAndGlyphs">26 Mar 16:00</text>
<rect x="1209" y="930" width="1" height="4" fill="#000"/>
<text x="1208" y="942.90" font-size="9.5" fill="#000" text-anchor="start" textLength="54.6191" lengthAdjust="spacingAndGlyphs">30 Mar 00:00</text>
<rect x="1273" y="930" width="1" height="4" fill="#000"/>
<text x="1272" y="942.90" font-size="9.5" fill="#000" text-anchor="start" textLength="54.6191" lengthAdjust="spacingAndGlyphs">31 Mar 08:00</text>
<rect x="1337" y="930" width="1" height="4" fill="#000"/>
<text x="1336" y="942.90" font-size="9.5" fill="#000" text-anchor="start" textLength="47.4146" lengthAdjust="spacingAndGlyphs">1 Apr 16:00</text>

<defs>
<linearGradient id="gb" x1="0" y1="0" x2="0" y2="1"><stop offset="0" stop-color="#3c3ce0"/><stop offset="0.55" stop-color="#2020cc"/><stop offset="1" stop-color="#0808a4"/></linearGradient>
<linearGradient id="gt" x1="0" y1="0" x2="0.35" y2="1"><stop offset="0" stop-color="#5252f2"/><stop offset="0.6" stop-color="#3c3ce2"/><stop offset="1" stop-color="#2222c6"/></linearGradient>
<linearGradient id="gg" x1="0" y1="0" x2="0" y2="1"><stop offset="0" stop-color="#f4f4f4"/><stop offset="0.5" stop-color="#dcdcdc"/><stop offset="1" stop-color="#cfcfcf"/></linearGradient>
</defs>
<rect x="0" y="49" width="215" height="64" fill="#fff"/>
<rect x="0" y="49" width="47.5" height="25" fill="url(#gt)"/>
<rect x="163.5" y="49" width="51.5" height="25" fill="url(#gt)"/>
<rect x="0" y="73" width="104.5" height="40" fill="url(#gb)"/>
<rect x="107" y="73" width="108" height="40" fill="url(#gb)"/>
<rect x="0" y="49" width="47.5" height="1" fill="#2020b4"/><rect x="0" y="72.6" width="44" height="0.9" fill="#8080ee"/>
<rect x="163.5" y="49" width="51.5" height="1" fill="#2020b4"/><rect x="167" y="72.6" width="44" height="0.9" fill="#8080ee"/><rect x="0" y="112" width="104.5" height="1" fill="#000088"/><rect x="107" y="112" width="108" height="1" fill="#000088"/>
<rect x="50.5" y="50" width="110.5" height="20.5" fill="#fff" stroke="#b4b4b4" stroke-width="1"/>
<rect x="51.5" y="51" width="19.5" height="18.5" fill="url(#gg)" stroke="#bdbdbd" stroke-width="0.6"/>
<rect x="139.5" y="51" width="20.5" height="18.5" fill="url(#gg)" stroke="#bdbdbd" stroke-width="0.6"/>
<polygon points="57.8,58 63,58 60.4,61" fill="#4a5a8c"/>
<polygon points="146.8,61 152,61 149.4,58" fill="#4a5a8c"/>

<text x="21" y="65.47" font-size="12.5" fill="#fff" text-anchor="middle" textLength="26" lengthAdjust="spacingAndGlyphs">SELL</text>
<text x="188.5" y="65.47" font-size="12.5" fill="#fff" text-anchor="middle" textLength="24" lengthAdjust="spacingAndGlyphs">BUY</text>
<text x="136" y="64.47" font-size="12.5" fill="#222" text-anchor="end" textLength="24" lengthAdjust="spacingAndGlyphs">1.00</text>
<text x="16" y="103.74" font-size="11" fill="#fff" text-anchor="start" textLength="24" lengthAdjust="spacingAndGlyphs" font-weight="bold">0.60</text>
<text x="43.3" y="104.12" font-size="34" fill="#fff" text-anchor="start" textLength="35.8" lengthAdjust="spacingAndGlyphs">81</text>
<text x="83.3" y="88.16" font-size="10.5" fill="#fff" text-anchor="start" font-weight="bold">3</text>
<text x="126" y="103.74" font-size="11" fill="#fff" text-anchor="start" textLength="24" lengthAdjust="spacingAndGlyphs" font-weight="bold">0.60</text>
<text x="154.1" y="104.12" font-size="34" fill="#fff" text-anchor="start" textLength="35.8" lengthAdjust="spacingAndGlyphs">83</text>
<text x="194.3" y="88.16" font-size="10.5" fill="#fff" text-anchor="start" font-weight="bold">6</text>
<rect x="0" y="0" width="1649" height="25" fill="#f0f0f0"/>
<rect x="0" y="25" width="1649" height="1" fill="#b4b4b4"/><rect x="0" y="26" width="1649" height="1" fill="#787878"/><rect x="0" y="27" width="1649" height="2" fill="#fff"/>
<text x="-9.1" y="16.6" font-size="12" fill="#000" text-anchor="start" style="font-family:'Liberation Sans','Noto Sans CJK SC',sans-serif;">新订单</text>
<text x="143.5" y="16.6" font-size="12" fill="#000" text-anchor="start" style="font-family:'Liberation Sans','Noto Sans CJK SC',sans-serif;">自动交易</text>
<rect x="199" y="1" width="1" height="24" fill="#a8a8a8"/><rect x="200" y="1" width="1" height="24" fill="#fff"/>
<rect x="203" y="3" width="3" height="1" fill="#a0a0a0"/>
<rect x="203" y="5" width="3" height="1" fill="#a0a0a0"/>
<rect x="203" y="7" width="3" height="1" fill="#a0a0a0"/>
<rect x="203" y="9" width="3" height="1" fill="#a0a0a0"/>
<rect x="203" y="11" width="3" height="1" fill="#a0a0a0"/>
<rect x="203" y="13" width="3" height="1" fill="#a0a0a0"/>
<rect x="203" y="15" width="3" height="1" fill="#a0a0a0"/>
<rect x="203" y="17" width="3" height="1" fill="#a0a0a0"/>
<rect x="203" y="19" width="3" height="1" fill="#a0a0a0"/>
<rect x="203" y="21" width="3" height="1" fill="#a0a0a0"/>
<g stroke="#4a4a4a" stroke-width="1" fill="none"><path d="M217.5,7.5V20.5M215,18.5H228M215.5,9.5l2,-2.5l2,2.5M226,16.5l2.5,2l-2.5,2"/></g>
<path d="M221.5,15.5H223.5V9.5H226" stroke="#22a032" stroke-width="1.6" fill="none"/>
<rect x="237.5" y="1.5" width="23.7" height="21.5" fill="#f9f9f9" stroke="#9c9c9c" stroke-width="1"/><rect x="238" y="22.5" width="23.7" height="1" fill="#fff"/><rect x="260.7" y="2" width="1" height="21" fill="#fdfdfd"/>
<g stroke="#4a4a4a" stroke-width="1" fill="none"><path d="M245.5,7.5V20.5M243,18.5H256M243.5,9.5l2,-2.5l2,2.5M254,16.5l2.5,2l-2.5,2"/></g>
<rect x="249.5" y="8.5" width="4" height="7.5" fill="#2fcf3f" stroke="#1a8a28" stroke-width="1"/><path d="M251.5,6v2.5M251.5,16v2" stroke="#1a8a28" stroke-width="1"/>
<g stroke="#4a4a4a" stroke-width="1" fill="none"><path d="M273.5,7.5V20.5M271,18.5H284M271.5,9.5l2,-2.5l2,2.5M282,16.5l2.5,2l-2.5,2"/></g>
<path d="M274,16.5C276,10 279,9 281,10.5S284,13 285,14" stroke="#22a032" stroke-width="1.3" fill="none"/>
<rect x="294" y="2" width="1" height="21" fill="#a6a6a6"/><rect x="295" y="2" width="1" height="21" fill="#fbfbfb"/>
<line x1="313" y1="15" x2="318" y2="20" stroke="#c8a830" stroke-width="3.2" stroke-linecap="round"/><line x1="313" y1="15" x2="318" y2="20" stroke="#f0e070" stroke-width="1.4" stroke-linecap="round"/><circle cx="309.5" cy="11" r="5.6" fill="#dbeafa" stroke="#2f6fc8" stroke-width="1.5"/><rect x="306.5" y="10.2" width="6" height="1.7" fill="#2f6fc8"/>
<rect x="308.7" y="8" width="1.7" height="6" fill="#2f6fc8"/>
<line x1="341" y1="15" x2="346" y2="20" stroke="#c8a830" stroke-width="3.2" stroke-linecap="round"/><line x1="341" y1="15" x2="346" y2="20" stroke="#f0e070" stroke-width="1.4" stroke-linecap="round"/><circle cx="337.5" cy="11" r="5.6" fill="#dbeafa" stroke="#2f6fc8" stroke-width="1.5"/><rect x="334.5" y="10.2" width="6" height="1.7" fill="#2f6fc8"/>
<rect x="359.3" y="5" width="7.6" height="7.5" fill="#4f9f2a"/><rect x="360.3" y="7.5" width="5.6" height="4" fill="#f4f6e8"/>
<rect x="367.8" y="5" width="7.6" height="7.5" fill="#2558b8"/><rect x="368.8" y="7.5" width="5.6" height="4" fill="#f4f6e8"/>
<rect x="359.3" y="13" width="7.6" height="7.5" fill="#2558b8"/><rect x="360.3" y="15.5" width="5.6" height="4" fill="#f4f6e8"/>
<rect x="367.8" y="13" width="7.6" height="7.5" fill="#4f9f2a"/><rect x="368.8" y="15.5" width="5.6" height="4" fill="#f4f6e8"/>
<rect x="384" y="2" width="1" height="21" fill="#a6a6a6"/><rect x="385" y="2" width="1" height="21" fill="#fbfbfb"/>
<rect x="389.5" y="1.5" width="23.7" height="21.5" fill="#f9f9f9" stroke="#9c9c9c" stroke-width="1"/><rect x="390" y="22.5" width="23.7" height="1" fill="#fff"/><rect x="412.7" y="2" width="1" height="21" fill="#fdfdfd"/>
<g stroke="#4a4a4a" stroke-width="1" fill="none"><path d="M397.5,7.5V20.5M395,18.5H408M395.5,9.5l2,-2.5l2,2.5M406,16.5l2.5,2l-2.5,2"/></g>
<polygon points="402.5,9.5 402.5,15.5 407,12.5" fill="#58d058" stroke="#1f9a2f" stroke-width="1"/>
<rect x="417.5" y="1.5" width="23.7" height="21.5" fill="#f9f9f9" stroke="#9c9c9c" stroke-width="1"/><rect x="418" y="22.5" width="23.7" height="1" fill="#fff"/><rect x="440.7" y="2" width="1" height="21" fill="#fdfdfd"/>
<g stroke="#4a4a4a" stroke-width="1" fill="none"><path d="M425.5,7.5V20.5M423,18.5H436M423.5,9.5l2,-2.5l2,2.5M434,16.5l2.5,2l-2.5,2"/></g>
<rect x="431" y="7" width="1.2" height="10" fill="#2a6ab0"/><path d="M437,12.5h-4M435,10.5l-2,2l2,2" stroke="#d2601a" stroke-width="1.2" fill="none"/>
<rect x="446" y="2" width="1" height="21" fill="#a6a6a6"/><rect x="447" y="2" width="1" height="21" fill="#fbfbfb"/>
<rect x="457.5" y="5.5" width="8" height="11" fill="#fafafa" stroke="#8a8a8a"/><rect x="460.5" y="7.5" width="8" height="11" fill="#fff" stroke="#8a8a8a"/><path d="M467.5,11v11M462,16.5h11" stroke="#1ea01e" stroke-width="4.2"/><path d="M467.5,12v9M463,16.5h9" stroke="#52e052" stroke-width="2"/>
<polygon points="478,11 483.4,11 480.7,14" fill="#000"/>
<circle cx="502" cy="12.7" r="6.4" fill="#f6f9ff" stroke="#2462b8" stroke-width="2.4"/><circle cx="502" cy="12.7" r="7.6" fill="none" stroke="#184a98" stroke-width="0.5"/><path d="M502,8.5v4.5h3.2" stroke="#803020" stroke-width="1.1" fill="none"/>
<polygon points="517,11 522.4,11 519.7,14" fill="#000"/>
<rect x="533.5" y="6.5" width="15" height="13" fill="#f4f8ff" stroke="#2c66b4" stroke-width="1.2"/><rect x="533.5" y="6.5" width="15" height="2" fill="#3a78c8"/><path d="M535,12l3,-1l3,1l3,-1.5l3,-0.5" stroke="#b03030" stroke-width="1" fill="none"/><path d="M535,17l3,-1l3,1l3,-2l3,1.5" stroke="#2a9a3a" stroke-width="1" fill="none"/><rect x="534" y="13.6" width="14" height="0.8" fill="#2c66b4"/>
<polygon points="556,11 561.4,11 558.7,14" fill="#000"/>
<rect x="567" y="1" width="1" height="24" fill="#a8a8a8"/><rect x="568" y="1" width="1" height="24" fill="#fff"/>
<rect x="571" y="3" width="3" height="1" fill="#a0a0a0"/>
<rect x="571" y="5" width="3" height="1" fill="#a0a0a0"/>
<rect x="571" y="7" width="3" height="1" fill="#a0a0a0"/>
<rect x="571" y="9" width="3" height="1" fill="#a0a0a0"/>
<rect x="571" y="11" width="3" height="1" fill="#a0a0a0"/>
<rect x="571" y="13" width="3" height="1" fill="#a0a0a0"/>
<rect x="571" y="15" width="3" height="1" fill="#a0a0a0"/>
<rect x="571" y="17" width="3" height="1" fill="#a0a0a0"/>
<rect x="571" y="19" width="3" height="1" fill="#a0a0a0"/>
<rect x="571" y="21" width="3" height="1" fill="#a0a0a0"/>
<rect x="577.5" y="1.5" width="24" height="21.5" fill="#f9f9f9" stroke="#9c9c9c" stroke-width="1"/><rect x="578" y="22.5" width="24" height="1" fill="#fff"/><rect x="601" y="2" width="1" height="21" fill="#fdfdfd"/>
<path d="M585.5,6.2V17.5L588.3,15L590.7,20L592.6,19.1L590.3,14.3H593.8Z" fill="#3c3c3c"/>
<path d="M617.5,6V20M610,13.5H625" stroke="#505050" stroke-width="1"/>
<rect x="634" y="2" width="1" height="21" fill="#a6a6a6"/><rect x="635" y="2" width="1" height="21" fill="#fbfbfb"/>
<rect x="651" y="7" width="1.2" height="13" fill="#505050"/><rect x="674" y="12.7" width="12.5" height="1.2" fill="#505050"/><line x1="702.5" y1="19.7" x2="714" y2="8" stroke="#505050" stroke-width="1.2"/>
<g stroke="#505050" stroke-width="1"><line x1="728" y1="14" x2="741" y2="7"/><line x1="728" y1="18.5" x2="741" y2="11.5"/><line x1="730" y1="19" x2="741.5" y2="5.5"/><line x1="733" y1="9" x2="731" y2="19"/><line x1="736.5" y1="8" x2="734.5" y2="17.5"/><line x1="740" y1="6" x2="738" y2="15"/></g>
<text x="738.7" y="22" font-size="6.5" font-weight="bold" fill="#303030">E</text>
<line x1="757" y1="6.5" x2="771" y2="6.5" stroke="#505050" stroke-width="1" stroke-dasharray="1,1"/>
<line x1="757" y1="10.0" x2="771" y2="10.0" stroke="#505050" stroke-width="1" stroke-dasharray="1,1"/>
<line x1="757" y1="13.5" x2="771" y2="13.5" stroke="#505050" stroke-width="1" stroke-dasharray="1,1"/>
<line x1="757" y1="18.0" x2="771" y2="18.0" stroke="#505050" stroke-width="1" stroke-dasharray="1,1"/>
<rect x="764" y="16" width="8" height="7" fill="#f0f0f0"/><text x="766.7" y="22" font-size="6.5" font-weight="bold" fill="#303030">F</text>
<text x="791.5" y="17.6" font-size="11.3" font-weight="bold" fill="#666" text-anchor="middle">A</text>
<rect x="814.5" y="6.5" width="11" height="13" fill="none" stroke="#505050" stroke-width="1" stroke-dasharray="1,1"/><text x="820" y="17.5" font-size="11.5" font-weight="bold" fill="#505050" text-anchor="middle">T</text>
<polygon points="845,6.5 848.5,10 841.5,10" fill="#404040"/><polygon points="845,12 848.5,8.8 841.5,8.8" fill="#404040" opacity="0"/><path d="M843.5,12.5l2.3,2.5l4.2,-5" stroke="#404040" stroke-width="1.3" fill="none"/><polygon points="851.5,14.3 855,17 851.5,20 848,17" fill="#404040"/><polygon points="845,5.5 848.2,8.5 845,11 841.8,8.5" fill="#404040"/>
<polygon points="862,11 867.4,11 864.7,14" fill="#000"/>
<rect x="873.5" y="1" width="1" height="24" fill="#a8a8a8"/><rect x="874.5" y="1" width="1" height="24" fill="#fff"/>
<rect x="877.5" y="3" width="3" height="1" fill="#a0a0a0"/>
<rect x="877.5" y="5" width="3" height="1" fill="#a0a0a0"/>
<rect x="877.5" y="7" width="3" height="1" fill="#a0a0a0"/>
<rect x="877.5" y="9" width="3" height="1" fill="#a0a0a0"/>
<rect x="877.5" y="11" width="3" height="1" fill="#a0a0a0"/>
<rect x="877.5" y="13" width="3" height="1" fill="#a0a0a0"/>
<rect x="877.5" y="15" width="3" height="1" fill="#a0a0a0"/>
<rect x="877.5" y="17" width="3" height="1" fill="#a0a0a0"/>
<rect x="877.5" y="19" width="3" height="1" fill="#a0a0a0"/>
<rect x="877.5" y="21" width="3" height="1" fill="#a0a0a0"/>
<rect x="1023.5" y="1.5" width="24" height="21.5" fill="#f9f9f9" stroke="#9c9c9c" stroke-width="1"/><rect x="1024" y="22.5" width="24" height="1" fill="#fff"/><rect x="1047" y="2" width="1" height="21" fill="#fdfdfd"/>
<text x="895" y="16.8" font-size="9.9" fill="#555" text-anchor="middle">M1</text>
<text x="922.5" y="16.8" font-size="9.9" fill="#555" text-anchor="middle">M5</text>
<text x="951" y="16.8" font-size="9.9" fill="#555" text-anchor="middle">M15</text>
<text x="979" y="16.8" font-size="9.9" fill="#555" text-anchor="middle">M30</text>
<text x="1007" y="16.8" font-size="9.9" fill="#555" text-anchor="middle">H1</text>
<text x="1035" y="16.8" font-size="9.9" fill="#555" text-anchor="middle">H4</text>
<text x="1063" y="16.8" font-size="9.9" fill="#555" text-anchor="middle">D1</text>
<text x="1092" y="16.8" font-size="9.9" fill="#555" text-anchor="middle">W1</text>
<text x="1118.5" y="16.8" font-size="9.9" fill="#555" text-anchor="middle">MN</text>
<rect x="1134" y="2" width="1" height="21" fill="#a6a6a6"/><rect x="1135" y="2" width="1" height="21" fill="#fbfbfb"/>
<circle cx="1604" cy="10" r="4" fill="#e8f0ff" stroke="#2a5ec0" stroke-width="1.8"/><line x1="1601" y1="13.5" x2="1597.5" y2="18" stroke="#2a5ec0" stroke-width="2.2" stroke-linecap="round"/>
<path d="M1624,12.5a5,4 0 1 1 4,3.8l-2,2.5v-2.8a5,4 0 0 1 -2,-3.5z" fill="#fafafa" stroke="#8a8a8a" stroke-width="1"/><path d="M1632,9.5a5.5,4.2 0 1 1 7.5,4.2v2.8l-2.5,-2.4a5.5,4.2 0 0 1 -5,-4.6z" fill="#fdfdfd" stroke="#8a8a8a" stroke-width="1"/>
<defs>
<linearGradient id="gold" x1="0" y1="0" x2="1" y2="1"><stop offset="0" stop-color="#f8dc58"/><stop offset="0.5" stop-color="#eec030"/><stop offset="1" stop-color="#c08a10"/></linearGradient>
<linearGradient id="srv" x1="0" y1="0" x2="1" y2="0"><stop offset="0" stop-color="#1f78d8"/><stop offset="0.45" stop-color="#2a9aec"/><stop offset="1" stop-color="#6fd8f8"/></linearGradient>
<linearGradient id="cld" x1="0" y1="0" x2="0" y2="1"><stop offset="0" stop-color="#ffffff"/><stop offset="1" stop-color="#c8d8f0"/></linearGradient>
<linearGradient id="hat" x1="0" y1="0" x2="0" y2="1"><stop offset="0" stop-color="#8ac4ec"/><stop offset="1" stop-color="#3a88c8"/></linearGradient>
<linearGradient id="fun" x1="0" y1="0" x2="1" y2="1"><stop offset="0" stop-color="#fbe880"/><stop offset="1" stop-color="#e8b820"/></linearGradient>
</defs>
<polygon points="41,16.6 49.4,21.6 56.6,15.4 56,14 48.6,20 40.2,15.4" fill="#a87808"/>
<polygon points="46.2,6 56.1,14.2 48.6,20.3 40,15.3" fill="url(#gold)" stroke="#c89818" stroke-width="0.6"/>
<path d="M45.5,8l-4,6.8" stroke="#fff3a8" stroke-width="0.9" fill="none" opacity="0.8"/>
<polygon points="70,6 74,5 81.5,5.6 81.5,15 74,16 70,14.5" fill="url(#srv)"/>
<polygon points="70,6 73.2,7.4 73.2,16 70,14.5" fill="#1868c8"/>
<rect x="75" y="8.6" width="5.5" height="1.2" fill="#b8f0ff" opacity="0.9"/>
<path d="M70.5,20.3a2.6,2.6 0 0 1 0.6,-5.1a3.6,3.4 0 0 1 6.6,-1.2a2.6,2.4 0 0 1 3.8,1.6a2.4,2.4 0 0 1 -0.3,4.7z" fill="url(#cld)" stroke="#6f8fc4" stroke-width="0.9"/>
<g fill="none" stroke-linecap="round"><path d="M103.6,5.2a7.4,7.4 0 0 0 -3.6,13.8" stroke="#8fb0e0" stroke-width="1.1"/><path d="M103.6,8a4.6,4.6 0 0 0 -2.2,8.6" stroke="#5c8ad4" stroke-width="1.1"/><path d="M103.6,5.2a7.4,7.4 0 0 1 1,14.7" stroke="#9fd0a4" stroke-width="1.1"/><path d="M103.6,8a4.6,4.6 0 0 1 3.6,7.4" stroke="#78c080" stroke-width="1.1"/></g>
<path d="M103.8,13l0.8,7.4a7.6,7.6 0 0 0 6.2,-6.4z" fill="#4fb45a"/>
<circle cx="103.5" cy="12.5" r="1.7" fill="#2a4fd0"/><circle cx="103.1" cy="12.1" r="0.6" fill="#a8c0ff"/>
<polygon points="123.8,11.2 138.6,11.2 131.6,20.6" fill="url(#fun)" stroke="#d8a818" stroke-width="0.5"/>
<ellipse cx="131.1" cy="9.6" rx="7.8" ry="2.7" fill="url(#hat)" stroke="#3a7ab8" stroke-width="0.5"/>
<path d="M127.2,9.2c0,-5.6 7.6,-5.6 7.6,0z" fill="url(#hat)"/>
<circle cx="135.6" cy="16.7" r="4" fill="#cc2410" stroke="#a81808" stroke-width="0.5"/><rect x="134.2" y="15.3" width="2.8" height="2.8" fill="#fff"/>
</svg>
</body></html>
